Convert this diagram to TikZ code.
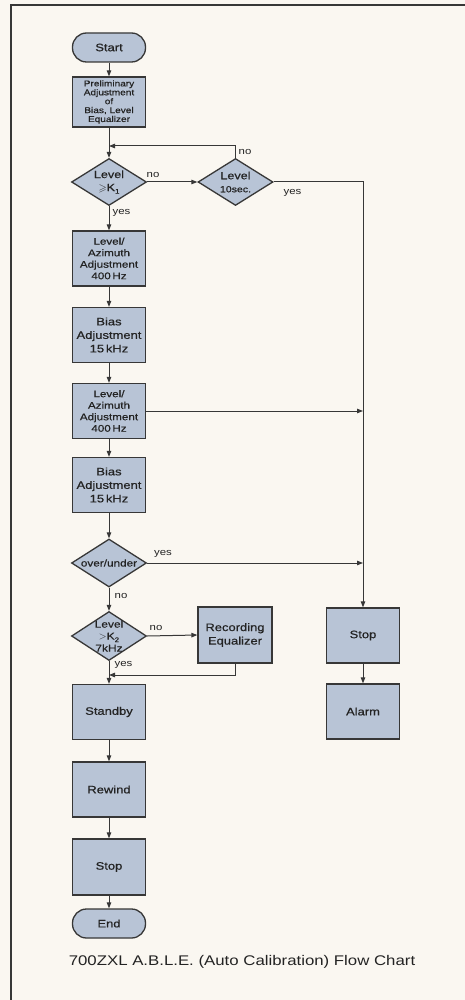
\documentclass[tikz,border=0pt]{standalone}
\usepackage{fontspec}
\usepackage{amssymb}
\setmainfont{Liberation Sans}[FakeStretch=1.2, FakeBold=0.6]
\newfontfamily\plainfont{Liberation Sans}[FakeStretch=1.2]
\usetikzlibrary{shapes.geometric,arrows.meta}
\definecolor{bg}{RGB}{250,247,241}
\definecolor{boxfill}{RGB}{184,196,214}
\definecolor{ln}{RGB}{55,55,55}
\definecolor{txt}{RGB}{35,35,35}
\newcommand\fs[2]{\fontsize{#1}{#2}\selectfont}
\newcommand\lowsub[1]{\raisebox{-0.45ex}{\fontsize{6.5}{6.5}\selectfont #1}}
\begin{document}
\begin{tikzpicture}[x=1pt,y=-1pt,
 box/.style={draw=ln, line width=1.3pt, fill=boxfill, minimum width=73pt, minimum height=55pt, inner sep=0pt, align=center, text=txt, font=\fs{10.8}{13.5}},
 term/.style={box, rounded corners=14pt, minimum height=29pt},
 dia/.style={draw=ln, line width=1.3pt, fill=boxfill, diamond, minimum width=75pt, minimum height=47pt, inner sep=0pt},
 dtext/.style={align=center, text=txt, inner sep=0pt, font=\fs{10.5}{12}},
 lbl/.style={text=txt, font=\plainfont\fs{9.5}{10}, inner sep=0pt},
 conn/.style={draw=ln, line width=1pt, -{Triangle[length=6pt,width=4.5pt]}},
 wire/.style={draw=ln, line width=1pt},
]
\useasboundingbox (0,0) rectangle (465,1000);
\fill[bg] (0,0) rectangle (465,1000);
\draw[ln, line width=1.5pt] (465,5) -- (11,5) -- (11,1000);

% main column
\node[term] (start) at (109,47.5) {Start};
\node[box, minimum height=50pt, font=\fs{8.4}{8.9}] (prelim) at (109,102) {Preliminary\\Adjustment\\of\\Bias, Level\\Equalizer};
\node[dia] (d1) at (109,182) {};
\node[dtext] (d1t) at (d1) {Level\\[1pt]$\geqslant$K\lowsub{1}};
\node[dia] (d2) at (235.5,182) {};
\node[dtext] (d2t) at (d2) {Level\\[1pt]{\fs{8.8}{10}10sec.}};
\node[box, font=\fs{9.7}{11.5}] (la1) at (109,258.5) {Level/\\Azimuth\\Adjustment\\400\,Hz};
\node[box] (bias1) at (109,335) {Bias\\Adjustment\\15\,kHz};
\node[box, font=\fs{9.7}{11.5}] (la2) at (109,411) {Level/\\Azimuth\\Adjustment\\400\,Hz};
\node[box] (bias2) at (109,485) {Bias\\Adjustment\\15\,kHz};
\node[dia, minimum height=48pt] (dou) at (109,563) {};
\node[dtext, font=\fs{9.8}{11}] (dout) at (dou) {over/under};
\node[dia, minimum height=49pt] (d3) at (109,636) {};
\node[dtext, font=\fs{10}{12}] (d3t) at (d3) {Level\\$>$K\lowsub{2}\\7kHz};
\node[box, minimum width=74pt, minimum height=56pt] (receq) at (235,635) {Recording\\Equalizer};
\node[box] (standby) at (109,712) {Standby};
\node[box] (rewind) at (109,789.5) {Rewind};
\node[box, minimum height=56pt] (stopm) at (109,867) {Stop};
\node[term] (end) at (109,923.5) {End};

% right column
\node[box] (stopr) at (363,635.5) {Stop};
\node[box] (alarm) at (363,711.5) {Alarm};

% helper coordinates
\coordinate (loopj) at (109,146);
\coordinate (rtop) at (363,182);
\coordinate (rj) at (109,675);

% connectors
\draw[conn] (start) -- (prelim);
\draw[conn] (prelim) -- (d1);
\draw[conn] (d2.north) |- (loopj);
\draw[conn] (d1.east) -- (d2.west);
\draw[conn] (d2.east) -- (rtop) -- (stopr.north);
\draw[conn] (d1) -- (la1);
\draw[conn] (la1) -- (bias1);
\draw[conn] (bias1) -- (la2);
\draw[conn] (la2) -- (bias2);
\draw[conn] (la2.east) -- (la2.east -| stopr.north);
\draw[conn] (bias2) -- (dou);
\draw[conn] (dou.east) -- (dou.east -| stopr.north);
\draw[conn] (dou) -- (d3);
\draw[conn] (d3.east) -- (receq.west);
\draw[conn] (receq.south) |- (rj);
\draw[conn] (d3) -- (standby);
\draw[conn] (standby) -- (rewind);
\draw[conn] (rewind) -- (stopm);
\draw[conn] (stopm) -- (end);
\draw[conn] (stopr) -- (alarm);

% labels
\node[lbl] (l1) at (153,175) {no};
\node[lbl] (l2) at (245,152) {no};
\node[lbl] (l3) at (292.5,193) {yes};
\node[lbl] (l4) at (121.5,213) {yes};
\node[lbl] (l5) at (163,554) {yes};
\node[lbl] (l6) at (121,596) {no};
\node[lbl] (l7) at (156,628) {no};
\node[lbl] (l8) at (123.5,665) {yes};

% caption
\node[text=txt, font=\plainfont\fs{14}{16}, inner sep=0pt] (cap) at (242,962) {700ZXL A.B.L.E. (Auto Calibration) Flow Chart};
\end{tikzpicture}
\end{document}
